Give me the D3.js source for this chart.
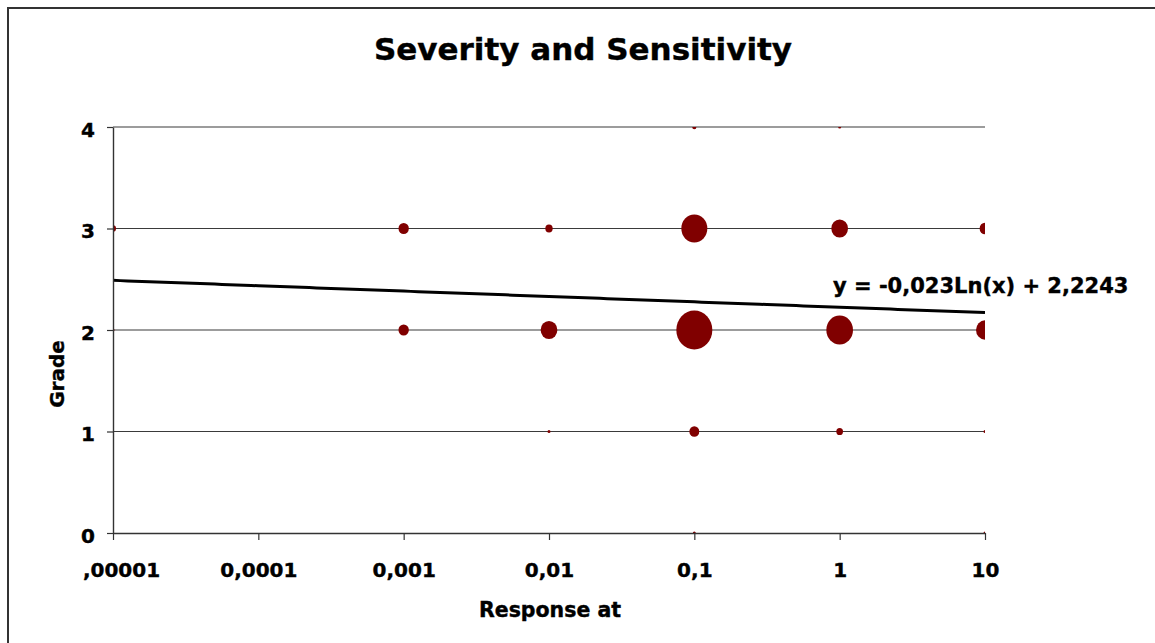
<!DOCTYPE html>
<html>
<head>
<meta charset="utf-8">
<script src="https://cdn.jsdelivr.net/npm/d3@7"></script>
<style>
  body { margin: 0; background: #fff; }
  text { font-family: "DejaVu Sans", Verdana, sans-serif; font-weight: bold; fill: #000; stroke: #000; stroke-width: 0.4px; }
</style>
</head>
<body>
<div id="chart"></div>
<script>
// bubble data: response level, grade, bubble size (count)
var responseAt = [0.00001, 0.00001, 0.001, 0.001, 0.01, 0.01, 0.01, 0.1, 0.1, 0.1, 0.1, 0.1, 1, 1, 1, 1, 10, 10, 10, 10];
var grades     = [3, 2, 3, 2, 3, 2, 1, 4, 3, 2, 1, 0, 4, 3, 2, 1, 3, 2, 1, 0];
var counts     = [4, 1, 12, 12, 6, 31, 1, 2, 75, 144, 11, 1, 1, 31, 79, 5, 13, 36, 1, 1];

// axis ticks
var xTicks = [0.00001, 0.0001, 0.001, 0.01, 0.1, 1, 10];
var xTickLabels = [",00001", "0,0001", "0,001", "0,01", "0,1", "1", "10"];
var yTicks = [0, 1, 2, 3, 4];

// logarithmic trendline coefficients  y = a*ln(x) + b
var trendA = -0.023;
var trendB = 2.2243;
var trendLabel = "y = -0,023Ln(x) + 2,2243";

var width = 1155;
var height = 643;
var plotLeft = 113, plotRight = 985, plotTop = 127, plotBottom = 533;

var svg = d3.select('#chart')
  .append('svg')
  .attr('width', width)
  .attr('height', height);

// outer chart frame (only top and left edges show)
svg.append('path')
  .attr('d', 'M 8 ' + height + ' V 8 H ' + width)
  .attr('fill', 'none')
  .attr('stroke', '#333')
  .attr('stroke-width', 2);

var x = d3.scaleLog().domain([0.00001, 10]).range([plotLeft, plotRight]);
var y = d3.scaleLinear().domain([0, 4]).range([plotBottom, plotTop]);
var r = d3.scaleSqrt().domain([0, 144]).range([0, 18]);

svg.append('defs').append('clipPath')
  .attr('id', 'plotClip')
  .append('rect')
  .attr('x', plotLeft).attr('y', plotTop)
  .attr('width', plotRight - plotLeft).attr('height', plotBottom - plotTop);

// horizontal gridlines
svg.append('g')
  .selectAll('line')
  .data(yTicks.filter(function(d) { return d > 0; }))
  .join('line')
  .attr('x1', plotLeft).attr('x2', plotRight)
  .attr('y1', function(d) { return y(d); })
  .attr('y2', function(d) { return y(d); })
  .attr('stroke', '#3a3a3a')
  .attr('stroke-width', 1.2);

// bubbles
var points = responseAt.map(function(d, i) {
  return { x: d, y: grades[i], n: counts[i] };
});

svg.append('g')
  .attr('clip-path', 'url(#plotClip)')
  .selectAll('ellipse')
  .data(points)
  .join('ellipse')
  .attr('cx', function(d) { return x(d.x); })
  .attr('cy', function(d) { return y(d.y); })
  .attr('rx', function(d) { return r(d.n); })
  .attr('ry', function(d) { return r(d.n) * 1.08; })
  .attr('fill', '#800000');

// trendline
var trendPts = d3.range(0, 121).map(function(i) {
  var lx = Math.log10(0.00001) + i * 6 / 120;
  var xv = Math.pow(10, lx);
  return [xv, trendA * Math.log(xv) + trendB];
});

svg.append('path')
  .datum(trendPts)
  .attr('d', d3.line()
    .x(function(d) { return x(d[0]); })
    .y(function(d) { return y(d[1]); }))
  .attr('fill', 'none')
  .attr('stroke', '#000')
  .attr('stroke-width', 3);

svg.append('text')
  .attr('x', 833)
  .attr('y', 293)
  .style('font-size', '21px')
  .text(trendLabel);

// axes
var xAxis = svg.append('g')
  .attr('transform', 'translate(0,' + plotBottom + ')')
  .call(d3.axisBottom(x)
    .tickValues(xTicks)
    .tickFormat(function(d, i) { return xTickLabels[i]; })
    .tickSize(7)
    .tickSizeOuter(0)
    .tickPadding(23));

var yAxis = svg.append('g')
  .attr('transform', 'translate(' + plotLeft + ',0)')
  .call(d3.axisLeft(y)
    .tickValues(yTicks)
    .tickFormat(d3.format('d'))
    .tickSize(6)
    .tickSizeOuter(0)
    .tickPadding(12));

[xAxis, yAxis].forEach(function(ax) {
  ax.select('.domain').attr('stroke', '#333').attr('stroke-width', 1.4);
  ax.selectAll('.tick line').attr('stroke', '#333').attr('stroke-width', 1.2);
  ax.selectAll('.tick text')
    .style('font-size', '20px')
    .style('font-family', '"DejaVu Sans", Verdana, sans-serif')
    .style('font-weight', 'bold')
    .attr('fill', '#000');
});
yAxis.selectAll('.tick text').attr('dy', '0.45em');
// first label sits a little to the right, as in the original
xAxis.selectAll('.tick text').filter(function(d, i) { return i === 0; }).attr('dx', 8);

// titles
svg.append('text')
  .attr('x', 583)
  .attr('y', 60)
  .attr('text-anchor', 'middle')
  .style('font-size', '31px')
  .text('Severity and Sensitivity');

svg.append('text')
  .attr('x', 550)
  .attr('y', 617)
  .attr('text-anchor', 'middle')
  .style('font-size', '20.5px')
  .text('Response at');

svg.append('text')
  .attr('transform', 'translate(64,374) rotate(-90)')
  .attr('text-anchor', 'middle')
  .style('font-size', '20px')
  .text('Grade');
</script>
</body>
</html>
